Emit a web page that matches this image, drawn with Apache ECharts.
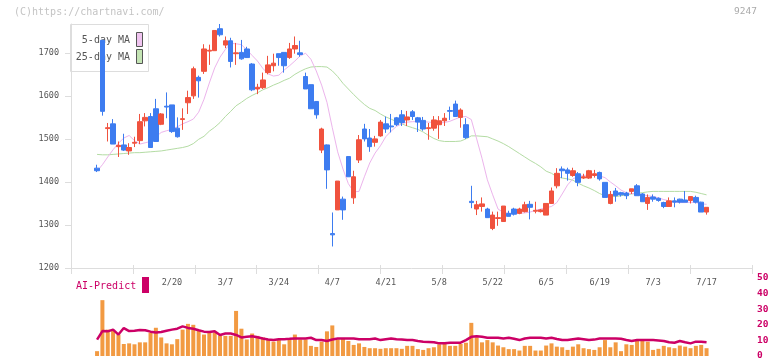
<!DOCTYPE html>
<html>
<head>
<meta charset="utf-8">
<script src="https://cdn.jsdelivr.net/npm/echarts/dist/echarts.min.js"></script>
<style>html,body{margin:0;padding:0;background:#fff}#c{width:772px;height:361px}</style>
</head>
<body>
<div id="c"></div>
<script>
// trading dates shown (k = 0..114)
const dates = ["1/30","1/31","2/3","2/4","2/5","2/6","2/7","2/10","2/12","2/13",
"2/14","2/17","2/18","2/19","2/20","2/21","2/25","2/26","2/27","2/28",
"3/3","3/4","3/5","3/6","3/7","3/10","3/11","3/12","3/13","3/14",
"3/17","3/18","3/19","3/21","3/24","3/25","3/26","3/27","3/28","3/31",
"4/1","4/2","4/3","4/4","4/7","4/8","4/9","4/10","4/11","4/14",
"4/15","4/16","4/17","4/18","4/21","4/22","4/23","4/24","4/25","4/28",
"4/30","5/1","5/2","5/7","5/8","5/9","5/12","5/13","5/14","5/15",
"5/16","5/19","5/20","5/21","5/22","5/23","5/26","5/27","5/28","5/29",
"5/30","6/2","6/3","6/4","6/5","6/6","6/9","6/10","6/11","6/12",
"6/13","6/16","6/17","6/18","6/19","6/20","6/23","6/24","6/25","6/26",
"6/27","6/30","7/1","7/2","7/3","7/4","7/7","7/8","7/9","7/10",
"7/11","7/14","7/15","7/16","7/17"];
const leadDates = ["1/24","1/27","1/28","1/29"];
const trailDates = ["7/18","7/22","7/23","7/24","7/25","7/28","7/29","7/30"];
const tickLabels = ["2/20","3/7","3/24","4/7","4/21","5/8","5/22","6/5","6/19","7/3","7/17"];
const priceTicks = [1200,1300,1400,1500,1600,1700];

// [open, close, low, high]
const ohlc = [
[1432,1426,1423,1440],[1729,1564,1554,1729],[1524,1526,1494,1537],[1535,1488,1488,1546],[1482,1485,1458,1494],
[1486,1474,1472,1512],[1472,1480,1463,1490],[1490,1492,1481,1505],[1496,1540,1488,1558],[1542,1550,1529,1560],
[1552,1480,1480,1560],[1570,1494,1494,1593],[1534,1558,1532,1560],[1576,1574,1548,1608],[1579,1517,1514,1579],
[1525,1505,1503,1550],[1545,1547,1521,1571],[1584,1596,1558,1612],[1600,1663,1593,1668],[1643,1635,1596,1647],
[1657,1709,1651,1720],[1704,1706,1672,1719],[1705,1752,1705,1752],[1756,1742,1738,1767],[1718,1728,1711,1738],
[1728,1680,1666,1735],[1698,1700,1672,1723],[1701,1686,1684,1730],[1709,1689,1688,1714],[1674,1614,1611,1676],
[1616,1620,1604,1628],[1619,1637,1616,1654],[1654,1672,1650,1693],[1670,1676,1657,1698],[1698,1689,1670,1698],
[1701,1670,1654,1701],[1689,1709,1686,1723],[1709,1717,1698,1738],[1700,1696,1691,1728],[1645,1616,1616,1654],
[1626,1570,1570,1626],[1587,1556,1547,1587],[1474,1523,1467,1526],[1486,1428,1384,1487],[1280,1277,1250,1329],
[1335,1402,1335,1402],[1360,1335,1312,1366],[1459,1412,1412,1459],[1363,1412,1349,1426],[1451,1498,1444,1509],
[1523,1500,1494,1535],[1502,1482,1470,1523],[1492,1500,1482,1507],[1507,1539,1505,1544],[1535,1523,1514,1552],
[1530,1528,1515,1558],[1549,1533,1530,1551],[1556,1538,1530,1567],[1544,1551,1530,1565],[1563,1552,1544,1567],
[1549,1539,1516,1551],[1543,1523,1519,1551],[1524,1526,1498,1537],[1525,1544,1519,1553],[1533,1542,1500,1553],
[1542,1548,1530,1560],[1566,1564,1544,1575],[1581,1552,1551,1589],[1550,1567,1526,1571],[1533,1503,1500,1548],
[1355,1352,1339,1391],[1337,1347,1323,1356],[1343,1349,1331,1364],[1337,1317,1317,1340],[1292,1323,1288,1331],
[1315,1317,1298,1331],[1308,1344,1308,1344],[1327,1320,1320,1333],[1337,1325,1322,1340],[1327,1337,1325,1340],
[1331,1347,1329,1354],[1348,1341,1313,1356],[1332,1334,1327,1354],[1331,1335,1329,1337],[1323,1350,1323,1350],
[1350,1379,1349,1387],[1391,1420,1385,1432],[1430,1426,1409,1436],[1428,1420,1403,1433],[1415,1426,1412,1433],
[1419,1399,1390,1423],[1409,1412,1407,1419],[1409,1426,1407,1428],[1415,1419,1410,1428],[1422,1407,1403,1424],
[1399,1364,1364,1399],[1350,1371,1348,1379],[1379,1368,1354,1386],[1375,1370,1366,1377],[1374,1368,1360,1377],
[1378,1384,1372,1384],[1391,1368,1368,1395],[1372,1354,1354,1374],[1350,1364,1335,1371],[1365,1360,1354,1371],
[1362,1357,1354,1364],[1352,1343,1339,1354],[1343,1356,1343,1364],[1356,1353,1341,1364],[1360,1353,1350,1361],
[1358,1353,1353,1379],[1357,1366,1350,1366],[1364,1353,1350,1368],[1353,1330,1330,1354],[1330,1341,1324,1341]
];

const ma5 = [1425,1440,1458,1475,1490,1502,1508,1496,1488,1491,
1494,1505,1515,1519,1522,1528,1535,1540,1546,1562,
1592,1630,1665,1690,1708,1722,1721,1719,1707,1694,
1681,1664,1651,1646,1648,1660,1670,1681,1693,1699,
1685,1658,1625,1585,1526,1470,1430,1396,1377,1378,
1412,1444,1467,1484,1505,1518,1529,1535,1539,1540,
1540,1540,1539,1538,1537,1538,1541,1546,1551,1552,
1545,1500,1455,1405,1370,1337,1329,1327,1327,1327,
1328,1330,1334,1337,1340,1343,1352,1372,1393,1407,
1413,1415,1416,1416,1414,1410,1400,1391,1381,1375,
1373,1372,1370,1368,1366,1363,1359,1356,1353,1352,
1352,1353,1352,1349,1348];

const ma25 = [1464,1463,1463,1464,1465,1466,1467,1468,1468,1469,
1470,1471,1472,1474,1476,1478,1480,1483,1489,1499,
1506,1518,1527,1538,1552,1564,1577,1585,1594,1601,
1607,1614,1619,1625,1630,1636,1641,1650,1657,1663,
1667,1668,1668,1667,1658,1645,1629,1616,1603,1591,
1580,1571,1566,1558,1551,1546,1540,1535,1530,1526,
1522,1516,1508,1501,1496,1494,1494,1494,1495,1500,
1507,1507,1506,1505,1500,1495,1489,1482,1474,1466,
1458,1450,1443,1435,1425,1420,1412,1409,1407,1404,
1397,1391,1386,1380,1373,1368,1366,1366,1368,1370,
1372,1374,1375,1377,1378,1378,1378,1378,1378,1378,
1378,1378,1376,1373,1370];

const volume = [3.1,35.8,16.9,16.5,13.75,7.7,8.1,7.5,8.75,8.75,
15,18.1,11.9,8.1,7.5,10.8,16.9,20.6,20,16.5,
13.75,15.8,15,13.3,12.9,12.9,28.9,17.5,10.6,14.4,
12.9,11.9,10.6,9.2,10.6,7.5,10.6,13.75,10.6,10.6,
6.5,5.8,9.2,15.8,19.6,10.6,11.25,9.6,7.1,8.1,
5.8,5,5,4.6,5,5,5,4.6,6.5,6.5,
4.4,3.9,5,5.6,7.5,8.1,6.5,6.5,7.7,8.5,
21.25,11.9,8.75,10.2,8.75,6.7,5.6,4.4,4.4,3.5,
6.5,6.5,3.5,3.5,6.7,8.1,6,5.6,3.9,6,
7.5,5,4.4,3.9,5.6,10.2,5.6,8.75,3.1,7.5,
7.1,10.6,10,9.2,3.9,4.6,6.5,5.6,5,6.7,
6,5,6.5,7.1,5];

const aiPredict = [10.5,16,15.8,16.9,13.75,17.9,16,16.2,16.7,16.5,
15.6,15,15.4,16.2,16.9,17.5,19,18,17.5,16.5,
15.6,15.4,15.8,13.5,14.4,14.4,13.5,11.9,12.3,12.7,
12,11.2,10.6,10.2,10.8,10.8,11,11.25,11.25,11.25,
11.7,10.2,10.2,9.6,10.6,11.25,11.25,11.25,11.25,10.8,
10.8,10.8,11.25,10.2,10.8,11.25,10.8,10.5,10.2,10.2,
9.6,9.2,9,8.8,8.1,8.1,8.5,8.5,8.5,10.2,
12.3,12.7,12.3,11.7,11.7,11.7,11.25,11.7,11,10.2,
11.25,11.7,11.7,11.7,11.25,11.7,10.9,10.2,10.2,10.8,
11.25,10.8,10.2,10.5,11.25,11.25,11.25,11.25,11,10.2,
9.6,10.2,10.2,10.2,10.2,10,9.6,8.8,8.5,9.6,
8.8,8.1,9.2,9.2,8.8];

const predictTicks = [0,10,20,30,40,50];

const lead = leadDates.length;
const cats = leadDates.concat(dates, trailDates);
const idx = (arr) => arr.map((v, i) => [i + lead].concat(v));

const MONO = '"DejaVu Sans Mono", "Liberation Mono", monospace';
const UP = '#f0523e', DOWN = '#3d7cf0';
const GRID_LINE = '#dddddd';
const plain = (v) => String(Math.round(v));

const chart = echarts.init(document.getElementById('c'), null, {renderer: 'canvas'});
chart.setOption({
  animation: false,
  backgroundColor: '#ffffff',
  grid: [
    {left: 73, right: 20, top: 24, height: 244},
    {left: 71, right: 20, top: 24, height: 244},
    {left: 73, right: 20, top: 278, height: 80}
  ],
  xAxis: [
    {type: 'category', gridIndex: 0, data: cats, boundaryGap: true,
     axisLine: {show: false}, axisTick: {show: false}, splitLine: {show: false},
     axisLabel: {interval: (i, v) => tickLabels.indexOf(v) >= 0, color: '#555',
       fontFamily: MONO, fontSize: 8.5, margin: 10}},
    {type: 'value', gridIndex: 1, min: 0, max: 11, interval: 1, position: 'bottom',
     axisLine: {show: true, lineStyle: {color: GRID_LINE, width: 1}},
     axisTick: {show: true, length: 6, lineStyle: {color: GRID_LINE}},
     axisLabel: {show: false}, splitLine: {show: false}},
    {type: 'value', gridIndex: 1, min: 0, max: 11, interval: 1, position: 'bottom', offset: 0,
     axisLine: {show: false},
     axisTick: {show: true, inside: true, length: 3, lineStyle: {color: GRID_LINE}},
     axisLabel: {show: false}, splitLine: {show: false}},
    {type: 'category', gridIndex: 2, data: cats, boundaryGap: true, show: false}
  ],
  yAxis: [
    {type: 'value', gridIndex: 0, min: 1200, max: 1767, show: false, splitLine: {show: false}},
    {type: 'value', gridIndex: 1, min: 1200, max: 1767, position: 'left',
     axisLine: {show: true, lineStyle: {color: GRID_LINE}},
     axisTick: {show: true, length: 6, lineStyle: {color: GRID_LINE}, customValues: priceTicks},
     axisLabel: {customValues: priceTicks, formatter: plain, color: '#555', fontFamily: MONO,
       fontSize: 8.5, margin: 12},
     splitLine: {show: false}},
    {type: 'value', gridIndex: 2, min: 0, max: 50, interval: 10, position: 'right',
     axisLine: {show: false}, axisTick: {show: false}, splitLine: {show: false},
     axisLabel: {customValues: predictTicks, formatter: plain, color: '#cc0066', fontFamily: MONO,
       fontSize: 9.5, fontWeight: 'bold', margin: 5}}
  ],
  graphic: [
    {type: 'text', z: 0, style: {x: 14, y: 12, text: '(C)https://chartnavi.com/', fill: '#c4c4c4',
      font: '10px ' + MONO, verticalAlign: 'middle', align: 'left'}},
    {type: 'text', z: 0, style: {x: 757, y: 12, text: '9247', fill: '#aaaaaa',
      font: '9.5px ' + MONO, verticalAlign: 'middle', align: 'right'}},
    {type: 'rect', z: 0, shape: {x: 70.5, y: 24.5, width: 78, height: 47},
      style: {fill: '#ffffff', stroke: '#dddddd', lineWidth: 1}},
    {type: 'text', z: 0, style: {x: 130, y: 40, text: '5-day MA', fill: '#555',
      font: '10px ' + MONO, verticalAlign: 'middle', align: 'right'}},
    {type: 'text', z: 0, style: {x: 130, y: 57, text: '25-day MA', fill: '#555',
      font: '10px ' + MONO, verticalAlign: 'middle', align: 'right'}},
    {type: 'rect', z: 0, shape: {x: 136.5, y: 32.5, width: 6, height: 14},
      style: {fill: '#f0c4f0', stroke: '#555', lineWidth: 1}},
    {type: 'rect', z: 0, shape: {x: 136.5, y: 49.5, width: 6, height: 14},
      style: {fill: '#c4e4b4', stroke: '#555', lineWidth: 1}},
    {type: 'text', z: 0, style: {x: 76, y: 286, text: 'AI-Predict', fill: '#cc0066',
      font: '10px ' + MONO, verticalAlign: 'middle', align: 'left'}},
    {type: 'rect', z: 0, shape: {x: 142, y: 277, width: 7, height: 16},
      style: {fill: '#cc0066'}}
  ],
  series: [
    {type: 'line', name: '25-day MA', xAxisIndex: 0, yAxisIndex: 0, z: 1,
     data: idx(ma25), symbol: 'none', lineStyle: {color: '#b4dca4', width: 1}},
    {type: 'line', name: '5-day MA', xAxisIndex: 0, yAxisIndex: 0, z: 1,
     data: idx(ma5), symbol: 'none', lineStyle: {color: '#ecb4ec', width: 1}},
    {type: 'candlestick', xAxisIndex: 0, yAxisIndex: 0, z: 3, barWidth: 5,
     data: idx(ohlc), encode: {x: 0, y: [1, 2, 3, 4]},
     itemStyle: {color: UP, color0: DOWN, borderColor: UP, borderColor0: DOWN, borderWidth: 1}},
    {type: 'bar', xAxisIndex: 3, yAxisIndex: 2, z: 2, barWidth: 4,
     data: idx(volume), itemStyle: {color: '#f29a42'}},
    {type: 'line', xAxisIndex: 3, yAxisIndex: 2, z: 3, data: idx(aiPredict), symbol: 'none',
     lineStyle: {color: '#cc0066', width: 2.5}}
  ]
});
</script>
</body>
</html>
